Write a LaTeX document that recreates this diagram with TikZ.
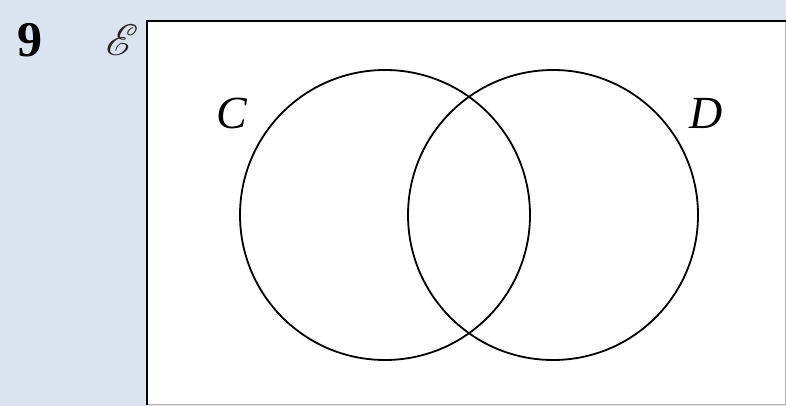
\documentclass[tikz,border=0pt]{standalone}
\usepackage{fontspec}
\setmainfont{Liberation Serif}
\usepackage{mathrsfs}
\definecolor{bgblue}{HTML}{DCE3F0}
\begin{document}
\begin{tikzpicture}[x=1pt,y=-1pt,
  venn/.style={draw=black,line width=1.8pt},
  lbl/.style={font=\fontsize{46}{50}\selectfont\itshape,inner sep=0pt}]
\fill[bgblue] (0,0) rectangle (786,406);
\useasboundingbox (0,0) rectangle (786,406);
\fill[white] (147,21) rectangle (785,404);
\draw[gray!60,line width=1pt] (785,21) -- (785,404) -- (147,404);
\draw[black,line width=2pt] (147,405) -- (147,21) -- (786,21);
\node[inner sep=0pt,font=\fontsize{50}{52}\selectfont\bfseries] (num) at (30,40) {9};
\node[inner sep=0pt,text=black!85,scale=4.4] (univ) at (122,40) {$\mathscr{E}$};
\node[venn,circle,minimum size=290pt,inner sep=0pt] (C) at (385,215) {};
\node[venn,circle,minimum size=290pt,inner sep=0pt] (D) at (553,215) {};
\node[lbl] (cl) at (232,113) {C};
\node[lbl] (dl) at (706,113) {D};
\end{tikzpicture}
\end{document}
